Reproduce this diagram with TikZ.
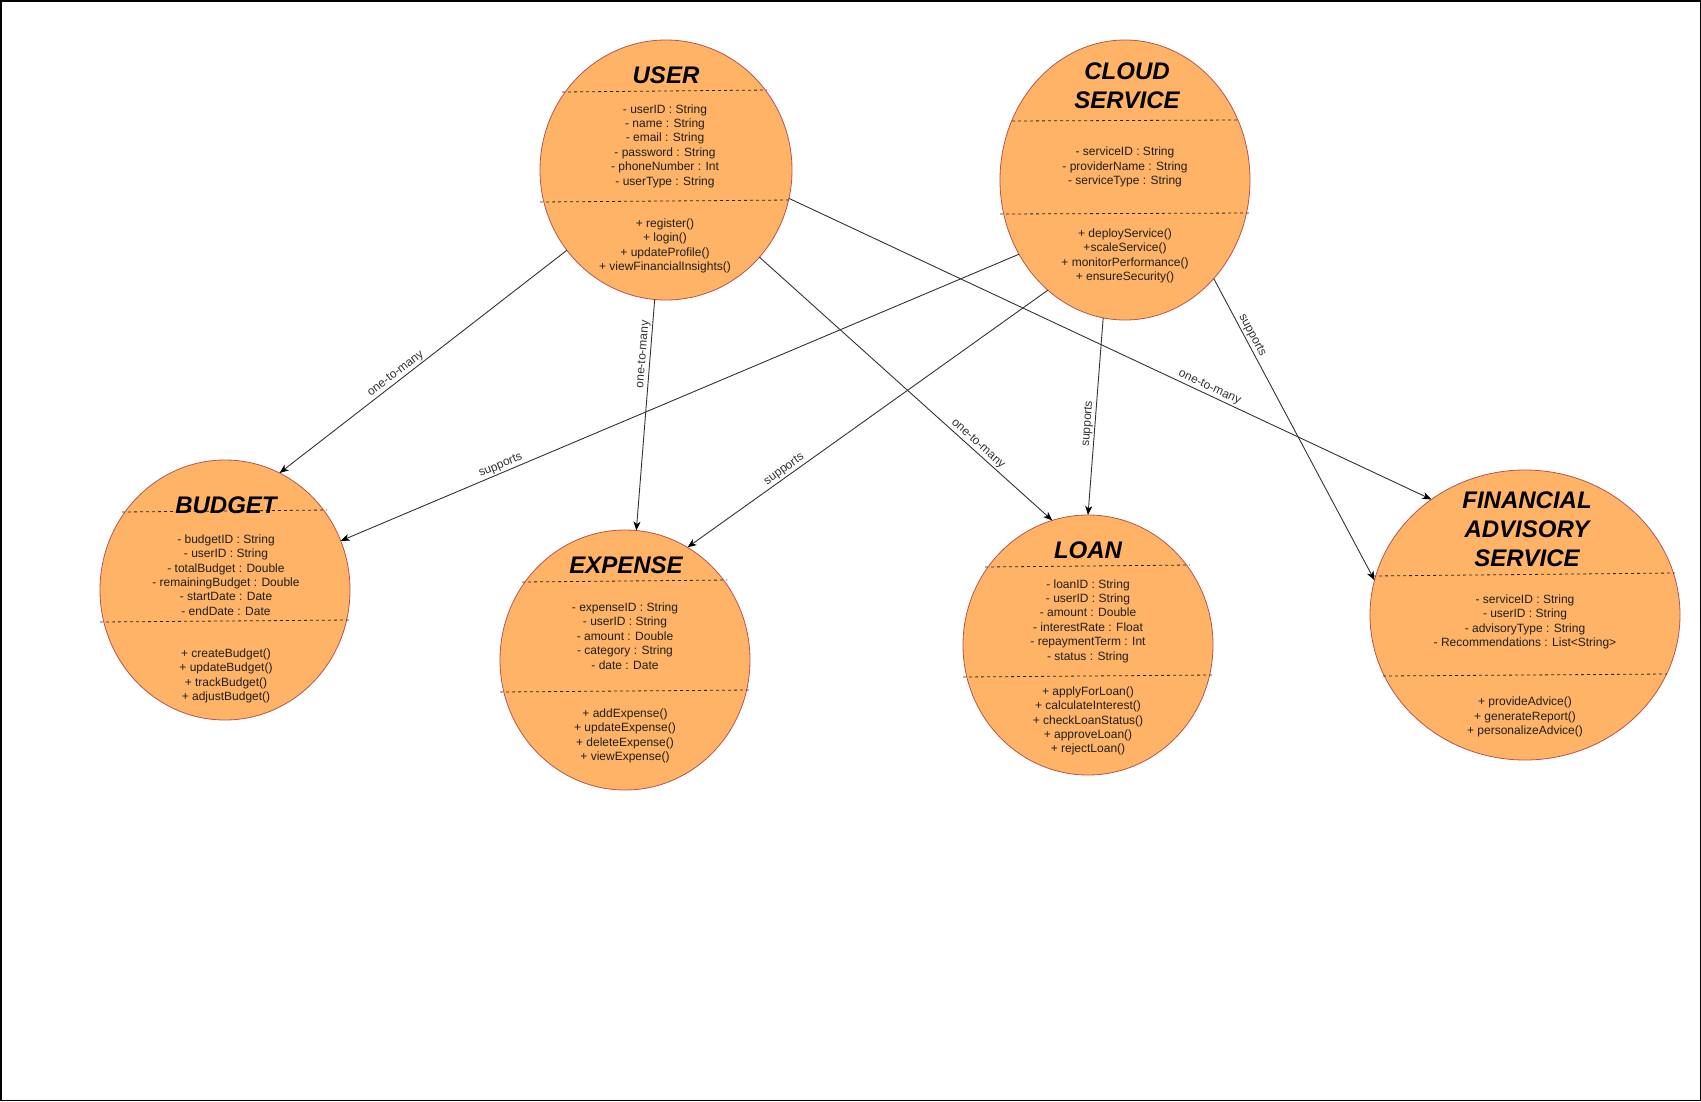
\documentclass[tikz,border=0pt]{standalone}
\usepackage{fontspec}
\setmainfont{Liberation Sans}
\usetikzlibrary{shapes.geometric,arrows.meta}

\definecolor{classfill}{HTML}{FFB366}
\definecolor{classline}{HTML}{B85450}
\definecolor{linkgray}{HTML}{333333}

\begin{document}
\begin{tikzpicture}[x=1pt,y=-1pt,
  classshape/.style={ellipse, draw=classline, fill=classfill, line width=0.8pt,
    inner sep=0pt, outer sep=0pt},
  classtitle/.style={font=\fontsize{24}{28.8}\selectfont\bfseries\itshape,
    align=center, inner sep=0pt},
  members/.style={font=\fontsize{12}{14.4}\selectfont, align=center,
    inner sep=0pt, text=black!88},
  divider/.style={dash pattern=on 3pt off 3pt, line width=0.8pt, black!85},
  link/.style={draw=linkgray, line width=0.9pt,
    -{Stealth[length=9pt,width=7pt,inset=2.5pt,black]}},
  linklabel/.style={sloped, above, font=\fontsize{12}{14}\selectfont,
    text=linkgray, inner sep=1.5pt}
]
\useasboundingbox (0,0) rectangle (1701,1101);
\draw[line width=1.5pt] (0.75,0.75) rectangle (1700.25,1100.25);

% ---------- classes ----------
\node[classshape, minimum width=252pt, minimum height=260pt] (user)    at (666,170)  {};
\node[classshape, minimum width=250pt, minimum height=280pt] (cloud)   at (1125,180) {};
\node[classshape, minimum width=250pt, minimum height=260pt] (budget)  at (225,590)  {};
\node[classshape, minimum width=250pt, minimum height=260pt] (expense) at (625,660)  {};
\node[classshape, minimum width=250pt, minimum height=260pt] (loan)    at (1088,645) {};
\node[classshape, minimum width=310pt, minimum height=290pt] (fin)     at (1525,615) {};

% USER
\draw[divider] (562,92) -- (767,90);
\draw[divider] (540,202) -- (792,200);
\node[classtitle] (userT) at (666,75) {USER};
\node[members] (userA) at (665,146) {- userID : String\\- name : String\\- email : String\\- password : String\\- phoneNumber : Int\\- userType : String};
\node[members] (userM) at (665,246) {+ register()\\+ login()\\+ updateProfile()\\+ viewFinancialInsights()};

% CLOUD SERVICE
\draw[divider] (1012,121) -- (1238,120);
\draw[divider] (1000,214) -- (1250,213);
\node[classtitle] (cloudT) at (1127,86) {CLOUD\\SERVICE};
\node[members] (cloudA) at (1125,167) {- serviceID : String\\- providerName : String\\- serviceType : String};
\node[members] (cloudM) at (1125,256) {+ deployService()\\+scaleService()\\+ monitorPerformance()\\+ ensureSecurity()};

% BUDGET
\draw[divider] (122,512) -- (327,510);
\draw[divider] (100,622) -- (350,620);
\node[classtitle] (budgetT) at (226,505) {BUDGET};
\node[members] (budgetA) at (226,575) {- budgetID : String\\- userID : String\\- totalBudget : Double\\- remainingBudget : Double\\- startDate : Date\\- endDate : Date};
\node[members] (budgetM) at (226,676) {+ createBudget()\\+ updateBudget()\\+ trackBudget()\\+ adjustBudget()};

% EXPENSE
\draw[divider] (522,582) -- (727,580);
\draw[divider] (500,692) -- (750,690);
\node[classtitle] (expenseT) at (626,565) {EXPENSE};
\node[members] (expenseA) at (625,636) {- expenseID : String\\- userID : String\\- amount : Double\\- category : String\\- date : Date};
\node[members] (expenseM) at (625,736) {+ addExpense()\\+ updateExpense()\\+ deleteExpense()\\+ viewExpense()};

% LOAN
\draw[divider] (985,567) -- (1190,565);
\draw[divider] (963,677) -- (1212,675);
\node[classtitle] (loanT) at (1088,550) {LOAN};
\node[members] (loanA) at (1088,621) {- loanID : String\\- userID : String\\- amount : Double\\- interestRate : Float\\- repaymentTerm : Int\\- status : String};
\node[members] (loanM) at (1088,721) {+ applyForLoan()\\+ calculateInterest()\\+ checkLoanStatus()\\+ approveLoan()\\+ rejectLoan()};

% FINANCIAL ADVISORY SERVICE
\draw[divider] (1373,576) -- (1675,573);
\draw[divider] (1383,676) -- (1667,674);
\node[classtitle] (finT) at (1527,529) {FINANCIAL\\ADVISORY\\SERVICE};
\node[members] (finA) at (1525,622) {- serviceID : String\\- userID : String\\- advisoryType : String\\- Recommendations : List<String>};
\node[members] (finM) at (1525,717) {+ provideAdvice()\\+ generateReport()\\+ personalizeAdvice()};

% ---------- associations ----------
\draw[link] (user.-141.6) -- node[linklabel, pos=0.58] {one-to-many} (budget.65);
\draw[link] (user.-95.3)  -- node[linklabel, pos=0.24] {one-to-many} (expense.85);
\draw[link] (user.-43.1)  -- node[linklabel, pos=0.73] {one-to-many} (loan.106.9);
\draw[link] (user.-13.6)  -- node[linklabel, pos=0.65] {one-to-many} (fin.129.3);

\draw[link] (cloud.-145.7) -- node[linklabel, pos=0.76] {supports} (budget.23.6);
\draw[link] (cloud.-125)   -- node[linklabel, pos=0.72] {supports} (expense.61);
\draw[link] (cloud.-99.9)  -- node[linklabel, pos=0.54] {supports} (loan.90);
\draw[link] (cloud.-48.3)  -- node[linklabel, pos=0.20] {supports} (fin.167);
\end{tikzpicture}
\end{document}
